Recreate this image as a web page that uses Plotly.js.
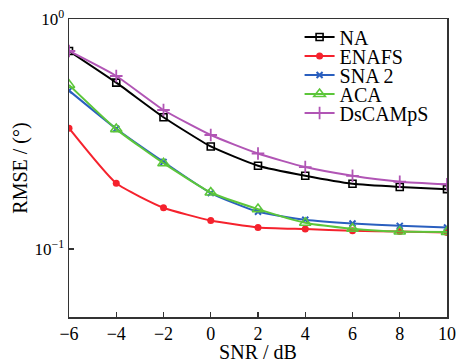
<!DOCTYPE html>
<html>
<head>
<meta charset="utf-8">
<script src="https://cdn.plot.ly/plotly-3.0.1.min.js"></script>
<style>html,body{margin:0;padding:0;background:#fff;}#chart{width:458px;height:363px;}</style>
</head>
<body>
<div id="chart"></div>
<script>
var snr = [-6, -4, -2, 0, 2, 4, 6, 8, 10];
var seriesNames = ["NA", "ENAFS", "SNA 2", "ACA", "DsCAMpS"];
var naVals = [0.726, 0.529, 0.374, 0.279, 0.230, 0.208, 0.192, 0.186, 0.182];
var enafsVals = [0.335, 0.193, 0.151, 0.133, 0.124, 0.122, 0.120, 0.119, 0.118];
var sna2Vals = [0.488, 0.333, 0.239, 0.175, 0.145, 0.134, 0.129, 0.126, 0.124];
var acaVals = [0.517, 0.332, 0.236, 0.176, 0.149, 0.130, 0.1225, 0.119, 0.1186];
var dscampsVals = [0.726, 0.565, 0.402, 0.313, 0.260, 0.227, 0.208, 0.196, 0.191];
var xTickVals = [-6, -4, -2, 0, 2, 4, 6, 8, 10];
var xTickText = ["−6", "−4", "−2", "0", "2", "4", "6", "8", "10"];
var yTickVals = [0.1, 1];
var yTickText = ["10<sup>−1</sup>", "10<sup>0</sup>"];

var font = "'Liberation Serif', 'Times New Roman', serif";
function tr(name, y, color, sym, size, lw) {
  return {
    x: snr, y: y, name: name, type: "scatter", mode: "lines+markers",
    line: {color: color, width: 2, shape: "spline", smoothing: 0.5},
    marker: {symbol: sym, size: size, color: color, line: {color: color, width: lw}}
  };
}
var data = [
  tr(seriesNames[0], naVals, "#000000", "square-open", 7, 1.6),
  tr(seriesNames[1], enafsVals, "#f5222d", "circle", 7, 0),
  tr(seriesNames[2], sna2Vals, "#2a5fbf", "x-thin", 6, 2),
  tr(seriesNames[3], acaVals, "#5cc63a", "triangle-up-open", 10, 1.6),
  tr(seriesNames[4], dscampsVals, "#b155b5", "cross-thin", 9, 1.8)
];
var layout = {
  width: 458, height: 363,
  margin: {l: 69, r: 11, t: 19, b: 46},
  paper_bgcolor: "#fff", plot_bgcolor: "#fff",
  font: {family: font, color: "#000", size: 17},
  showlegend: true,
  legend: {x: 0.61, y: 1.005, xanchor: "left", yanchor: "top", bgcolor: "rgba(0,0,0,0)",
           font: {family: font, size: 20, color: "#000"}, tracegroupgap: 0, itemwidth: 30},
  xaxis: {
    range: [-6, 10], tickvals: xTickVals, ticktext: xTickText,
    ticks: "inside", ticklen: 5, tickwidth: 1.2, tickcolor: "#333",
    showline: true, linecolor: "#333", linewidth: 1.5, mirror: true,
    showgrid: false, zeroline: false,
    tickfont: {family: font, size: 18},
    title: {text: "SNR / dB", font: {family: font, size: 20}, standoff: 3}
  },
  yaxis: {
    type: "log", range: [-1.296, 0], tickvals: yTickVals, ticktext: yTickText,
    ticks: "inside", ticklen: 5, tickwidth: 1.2, tickcolor: "#333",
    showline: true, linecolor: "#333", linewidth: 1.5, mirror: true,
    showgrid: false, zeroline: false,
    tickfont: {family: font, size: 17},
    title: {text: "RMSE / (°)", font: {family: font, size: 20}, standoff: 1}
  }
};
Plotly.newPlot("chart", data, layout, {displayModeBar: false, staticPlot: true}).then(function (gd) {
  var items = gd.querySelectorAll(".legend .traces");
  var y0 = null;
  items.forEach(function (el, i) {
    var m = /translate\(([-\d.]+)[ ,]+([-\d.]+)\)/.exec(el.getAttribute("transform") || "");
    if (!m) return;
    if (y0 === null) y0 = parseFloat(m[2]);
    el.setAttribute("transform", "translate(" + m[1] + "," + (y0 + i * 19) + ")");
  });
});
</script>
</body>
</html>
